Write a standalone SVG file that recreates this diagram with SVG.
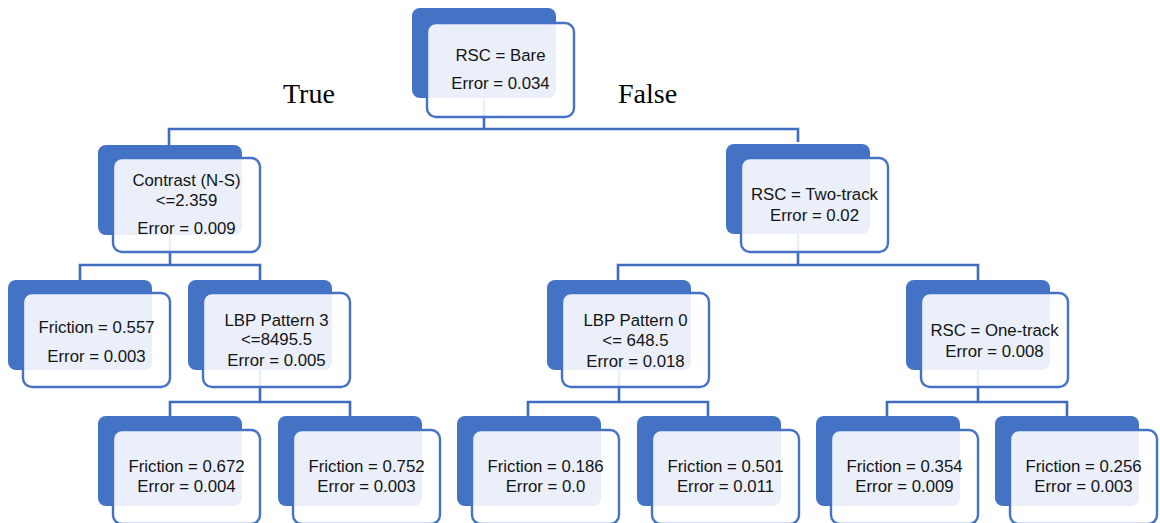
<svg xmlns="http://www.w3.org/2000/svg" width="1160" height="523" viewBox="0 0 1160 523">
  <style>
    .back { fill: #4472C4; }
    .front { fill: #ffffff; fill-opacity: 0.89; stroke: #4472C4; stroke-width: 2.4; }
    .lbl { font-family: "Liberation Sans", Arial, sans-serif; font-size: 16.8px; fill: #141414; text-anchor: middle; }
    .branch { font-family: "Liberation Serif", "Times New Roman", serif; font-size: 28px; fill: #000; }
    .wire { fill: none; stroke: #3F6CBE; stroke-width: 2.6; }
  </style>
  <defs>
    <rect id="backBox" class="back" width="144" height="90" rx="8"/>
    <rect id="frontBox" class="front" width="147" height="94" rx="9"/>
  </defs>

  <rect width="1160" height="523" fill="#ffffff"/>

  <!-- tree connectors (drawn under the node cards) -->
  <g id="connectors" class="wire">
    <path d="M484,99 V129"/>
    <path d="M169,145 V129 H798 V142"/>
    <path d="M170,234 V265"/>
    <path d="M80,280 V265 H260 V280"/>
    <path d="M798,234 V265"/>
    <path d="M618,280 V265 H978 V280"/>
    <path d="M260,370 V402"/>
    <path d="M170,416 V402 H350 V416"/>
    <path d="M619,370 V402"/>
    <path d="M528,416 V402 H708 V416"/>
    <path d="M978,370 V402"/>
    <path d="M887,416 V402 H1067 V416"/>
  </g>

  <g id="branch-labels">
    <text class="branch" x="283" y="103">True</text>
    <text class="branch" x="618" y="103">False</text>
  </g>

  <g id="node-root">
    <use href="#backBox" x="412" y="8"/>
    <use href="#frontBox" x="427" y="23"/>
    <text class="lbl" x="500.5" y="61">RSC = Bare</text>
    <text class="lbl" x="500.5" y="89">Error = 0.034</text>
  </g>

  <g id="node-contrast">
    <use href="#backBox" x="98" y="145"/>
    <use href="#frontBox" x="113" y="158"/>
    <text class="lbl" x="186.5" y="186">Contrast (N-S)</text>
    <text class="lbl" x="186.5" y="206">&lt;=2.359</text>
    <text class="lbl" x="186.5" y="234">Error = 0.009</text>
  </g>

  <g id="node-two-track">
    <use href="#backBox" x="726" y="144"/>
    <use href="#frontBox" x="741" y="158"/>
    <text class="lbl" x="814.5" y="200">RSC = Two-track</text>
    <text class="lbl" x="814.5" y="221">Error = 0.02</text>
  </g>

  <g id="node-friction-557">
    <use href="#backBox" x="8" y="280"/>
    <use href="#frontBox" x="23" y="293"/>
    <text class="lbl" x="96.5" y="333">Friction = 0.557</text>
    <text class="lbl" x="96.5" y="362">Error = 0.003</text>
  </g>

  <g id="node-lbp3">
    <use href="#backBox" x="188" y="280"/>
    <use href="#frontBox" x="203" y="293"/>
    <text class="lbl" x="276.5" y="326">LBP Pattern 3</text>
    <text class="lbl" x="276.5" y="345">&lt;=8495.5</text>
    <text class="lbl" x="276.5" y="366">Error = 0.005</text>
  </g>

  <g id="node-lbp0">
    <use href="#backBox" x="547" y="280"/>
    <use href="#frontBox" x="562" y="293"/>
    <text class="lbl" x="635.5" y="326">LBP Pattern 0</text>
    <text class="lbl" x="635.5" y="346">&lt;= 648.5</text>
    <text class="lbl" x="635.5" y="367">Error = 0.018</text>
  </g>

  <g id="node-one-track">
    <use href="#backBox" x="906" y="280"/>
    <use href="#frontBox" x="921" y="293"/>
    <text class="lbl" x="994.5" y="336">RSC = One-track</text>
    <text class="lbl" x="994.5" y="357">Error = 0.008</text>
  </g>

  <g id="leaf-672">
    <use href="#backBox" x="98" y="416"/>
    <use href="#frontBox" x="113" y="430"/>
    <text class="lbl" x="186.5" y="472">Friction = 0.672</text>
    <text class="lbl" x="186.5" y="492">Error = 0.004</text>
  </g>

  <g id="leaf-752">
    <use href="#backBox" x="278" y="416"/>
    <use href="#frontBox" x="293" y="430"/>
    <text class="lbl" x="366.5" y="472">Friction = 0.752</text>
    <text class="lbl" x="366.5" y="492">Error = 0.003</text>
  </g>

  <g id="leaf-186">
    <use href="#backBox" x="457" y="416"/>
    <use href="#frontBox" x="472" y="430"/>
    <text class="lbl" x="545.5" y="472">Friction = 0.186</text>
    <text class="lbl" x="545.5" y="492">Error = 0.0</text>
  </g>

  <g id="leaf-501">
    <use href="#backBox" x="637" y="416"/>
    <use href="#frontBox" x="652" y="430"/>
    <text class="lbl" x="725.5" y="472">Friction = 0.501</text>
    <text class="lbl" x="725.5" y="492">Error = 0.011</text>
  </g>

  <g id="leaf-354">
    <use href="#backBox" x="816" y="416"/>
    <use href="#frontBox" x="831" y="430"/>
    <text class="lbl" x="904.5" y="472">Friction = 0.354</text>
    <text class="lbl" x="904.5" y="492">Error = 0.009</text>
  </g>

  <g id="leaf-256">
    <use href="#backBox" x="995" y="416"/>
    <use href="#frontBox" x="1010" y="430"/>
    <text class="lbl" x="1083.5" y="472">Friction = 0.256</text>
    <text class="lbl" x="1083.5" y="492">Error = 0.003</text>
  </g>
</svg>
